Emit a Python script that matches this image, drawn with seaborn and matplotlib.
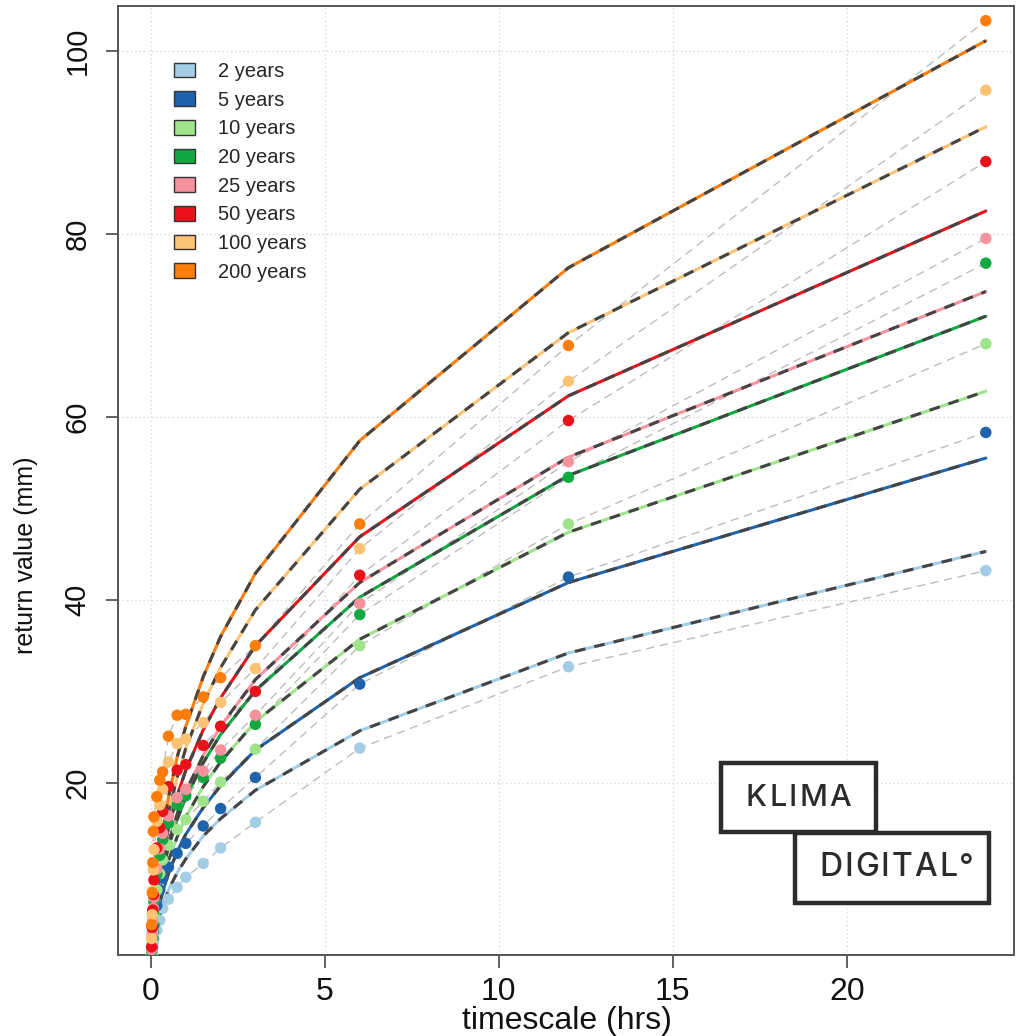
import numpy as np
import pandas as pd
import matplotlib
matplotlib.use("Agg")
import matplotlib.pyplot as plt
from matplotlib.patches import Patch, Rectangle
import seaborn as sns

sns.set_theme(style="ticks")
plt.rcParams['font.family'] = ['Liberation Sans Narrow', 'Liberation Sans', 'DejaVu Sans']

# durations of the analysis (minutes)
durations_min = [1, 2, 3, 4, 5, 10, 15, 20, 30, 45, 60, 90, 120, 180, 360, 720, 1440]
periods = ["2 years", "5 years", "10 years", "20 years", "25 years", "50 years", "100 years", "200 years"]
colors = ["#A3CDE4", "#1F63AC", "#A0E38D", "#10A840", "#F6929D", "#EA111A", "#FDC374", "#FC7D0B"]

# observed return values (mm), one list per return period
obs_2 = [0.8, 1.4, 2.0, 2.5, 2.9, 3.9, 5.0, 6.3, 7.3, 8.6, 9.7, 11.2, 12.9, 15.7, 23.8, 32.7, 43.2]
obs_5 = [1.0, 2.0, 3.0, 3.8, 4.5, 6.6, 8.3, 9.6, 10.8, 12.3, 13.4, 15.3, 17.2, 20.6, 30.8, 42.5, 58.3]
obs_10 = [1.3, 2.6, 3.8, 4.9, 5.8, 8.3, 10.1, 11.6, 13.2, 14.9, 16.0, 18.0, 20.1, 23.7, 35.0, 48.3, 68.0]
obs_20 = [1.6, 3.2, 4.6, 5.9, 7.0, 10.0, 12.1, 13.8, 15.6, 17.6, 18.6, 20.6, 22.7, 26.4, 38.4, 53.4, 76.8]
obs_25 = [1.8, 3.5, 5.0, 6.3, 7.5, 10.6, 12.8, 14.5, 16.4, 18.4, 19.3, 21.3, 23.6, 27.4, 39.6, 55.1, 79.5]
obs_50 = [2.1, 4.2, 6.1, 7.8, 9.4, 12.9, 15.1, 16.9, 19.6, 21.4, 22.0, 24.1, 26.2, 30.0, 42.7, 59.6, 87.9]
obs_100 = [3.0, 5.6, 8.2, 10.5, 12.7, 15.8, 17.6, 19.3, 22.3, 24.3, 24.8, 26.6, 28.8, 32.5, 45.6, 63.9, 95.7]
obs_200 = [4.5, 8.0, 11.3, 14.7, 16.3, 18.5, 20.3, 21.2, 25.1, 27.4, 27.5, 29.4, 31.5, 35.0, 48.3, 67.8, 103.3]

# fitted return values (mm)
fit_2 = [0.6, 1.2, 1.7, 2.1, 2.5, 4.2, 5.5, 6.6, 8.3, 10.2, 11.7, 14.2, 16.1, 19.2, 25.7, 34.2, 45.3]
fit_5 = [0.8, 1.4, 2.1, 2.6, 3.1, 5.2, 6.8, 8.1, 10.1, 12.5, 14.4, 17.3, 19.7, 23.6, 31.5, 41.9, 55.5]
fit_10 = [0.9, 1.6, 2.3, 3.0, 3.5, 5.9, 7.7, 9.1, 11.5, 14.1, 16.3, 19.6, 22.3, 26.7, 35.7, 47.4, 62.8]
fit_20 = [1.0, 1.9, 2.6, 3.3, 4.0, 6.6, 8.7, 10.3, 13.0, 16.0, 18.4, 22.2, 25.3, 30.1, 40.3, 53.6, 71.0]
fit_25 = [1.0, 1.9, 2.7, 3.5, 4.1, 6.9, 9.0, 10.7, 13.4, 16.6, 19.1, 23.0, 26.2, 31.3, 41.9, 55.6, 73.7]
fit_50 = [1.1, 2.2, 3.1, 3.9, 4.6, 7.7, 10.1, 12.0, 15.1, 18.6, 21.4, 25.8, 29.3, 35.0, 46.9, 62.3, 82.5]
fit_100 = [1.3, 2.4, 3.4, 4.3, 5.1, 8.6, 11.2, 13.3, 16.7, 20.6, 23.8, 28.7, 32.6, 38.9, 52.1, 69.2, 91.7]
fit_200 = [1.4, 2.6, 3.7, 4.8, 5.7, 9.5, 12.3, 14.7, 18.4, 22.8, 26.2, 31.6, 36.0, 42.9, 57.4, 76.3, 101.1]

obs_all = [obs_2, obs_5, obs_10, obs_20, obs_25, obs_50, obs_100, obs_200]
fit_all = [fit_2, fit_5, fit_10, fit_20, fit_25, fit_50, fit_100, fit_200]

hours = np.array(durations_min) / 60.0
rows_obs, rows_fit = [], []
for p, o, f in zip(periods, obs_all, fit_all):
    for h, vo, vf in zip(hours, o, f):
        rows_obs.append({"hours": h, "value": vo, "period": p})
        rows_fit.append({"hours": h, "value": vf, "period": p})
obs_df = pd.DataFrame(rows_obs)
fit_df = pd.DataFrame(rows_fit)
pal = dict(zip(periods, colors))

W, H = 1017, 1036
fig = plt.figure(figsize=(W / 100, H / 100), dpi=100)
ax = fig.add_axes([118 / W, 81 / H, 896 / W, 949 / H])

ax.grid(True, color="#D8D8D8", linestyle=(0, (1, 2)), linewidth=1)
ax.set_axisbelow(True)

# thin grey dashed line through the observations
sns.lineplot(data=obs_df, x="hours", y="value", units="period", estimator=None,
             color="#BDBDBD", linewidth=1, linestyle=(0, (6, 4)), ax=ax, legend=False, zorder=2)
# fitted curves: coloured line with dark dashes on top
sns.lineplot(data=fit_df, x="hours", y="value", hue="period", palette=pal,
             linewidth=2.2, ax=ax, legend=False, zorder=3)
sns.lineplot(data=fit_df, x="hours", y="value", units="period", estimator=None,
             color="#444444", linewidth=2.2, linestyle=(0, (3.5, 3)), ax=ax, legend=False, zorder=4)
sns.scatterplot(data=obs_df, x="hours", y="value", hue="period", palette=pal,
                s=68, linewidth=0, ax=ax, legend=False, zorder=5)

ax.set_xlim(-0.95, 24.81)
ax.set_ylim(1.2, 104.9)
ax.set_xticks([0, 5, 10, 15, 20])
ax.set_yticks([20, 40, 60, 80, 100])
ax.set_xlabel("")
ax.set_ylabel("")
for s in ax.spines.values():
    s.set_color("#555555")
    s.set_linewidth(1.4)
ax.tick_params(axis="both", length=9, width=1.3, color="#555555", labelcolor="#111111")
ax.tick_params(axis="x", labelsize=23, pad=7)
ax.tick_params(axis="y", labelsize=21, pad=10)
for t in ax.get_yticklabels():
    t.set_rotation(90)
    t.set_va("center")

fig.text(567 / W, 1 - 1021 / H, "timescale (hrs)", fontsize=23, ha="center", va="center", color="#111111")
fig.text(26 / W, 1 - 555 / H, "return value (mm)", fontsize=18, rotation=90,
         ha="center", va="center", color="#111111")

handles = [Patch(facecolor=c, edgecolor="#333333", linewidth=1) for c in colors]
ax.legend(handles, periods, loc="upper left", bbox_to_anchor=(0.063, 0.941), frameon=False,
          prop={"family": "Liberation Sans", "size": 14.5}, handlelength=1.0, handleheight=0.75,
          handletextpad=1.15, labelspacing=0.48, borderpad=0, borderaxespad=0)

# KLIMA DIGITAL logo
logo_col = "#2b2b2b"
fig.add_artist(Rectangle((721 / W, 1 - 832 / H), 155 / W, 69 / H, transform=fig.transFigure,
                         facecolor="white", edgecolor=logo_col, linewidth=3.2, zorder=10))
fig.add_artist(Rectangle((795 / W, 1 - 903 / H), 194 / W, 70 / H, transform=fig.transFigure,
                         facecolor="white", edgecolor=logo_col, linewidth=3.2, zorder=11))

renderer = fig.canvas.get_renderer()


def spaced(word, x0, x1, yc, size):
    texts = [fig.text(0, 1 - yc / H, ch, fontsize=size, family=["Inter", "DejaVu Sans"],
                      fontweight="medium", color=logo_col, va="center", ha="left", zorder=12)
             for ch in word]
    widths = [t.get_window_extent(renderer).width for t in texts]
    gap = (x1 - x0 - sum(widths)) / (len(word) - 1)
    x = x0
    for t, w in zip(texts, widths):
        t.set_x(x / W)
        x += w + gap


spaced("KLIMA", 746, 851, 798, 22)
spaced("DIGITAL°", 819, 974, 868, 23)

fig.savefig("out.png", dpi=100)
